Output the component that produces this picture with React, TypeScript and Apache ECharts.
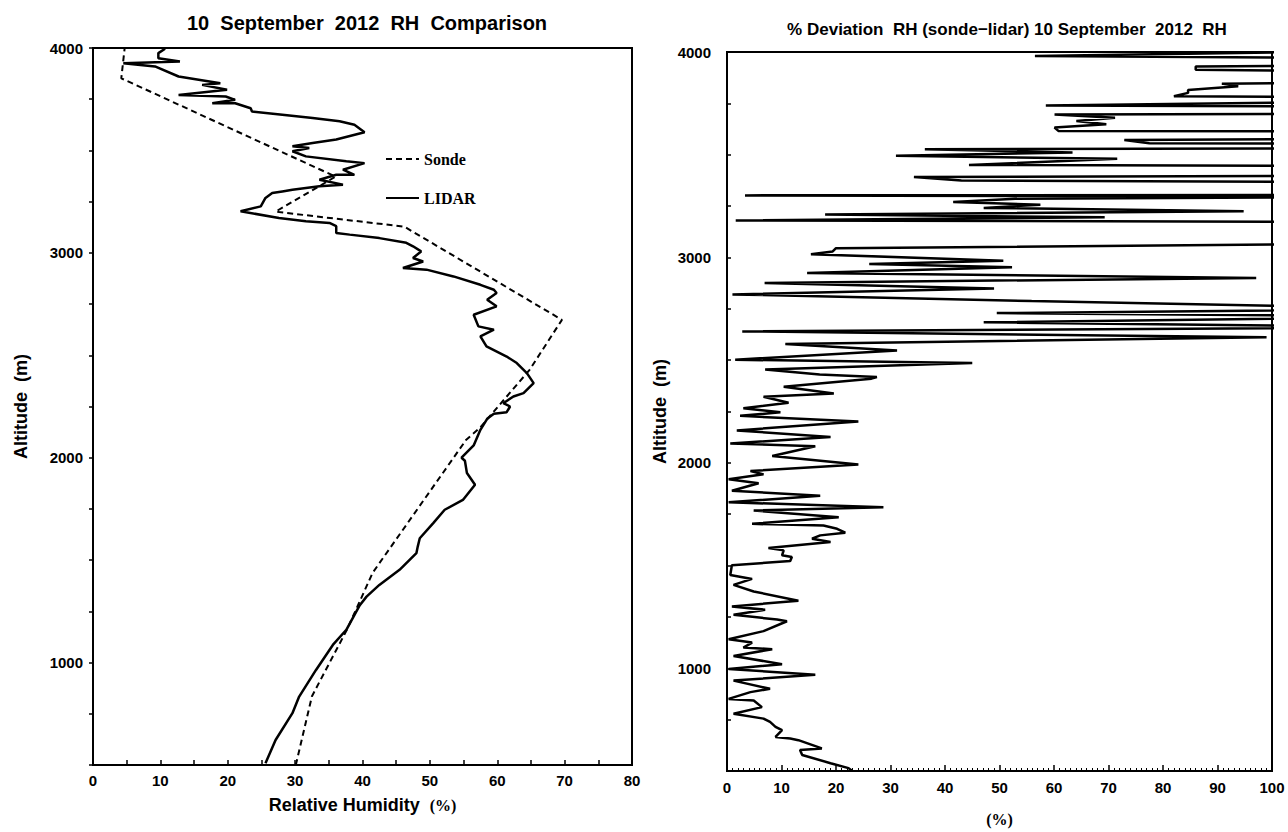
import React, { useEffect, useRef } from "react";
import * as echarts from "echarts";

// ---- Data (RH %, altitude m) ----
const sondeProfile: [number, number][] = [
  [30.1, 500], [32.5, 836], [37.7, 1161], [41.5, 1438], [55.4, 2088], [57.4, 2145],
  [64.8, 2429], [69.6, 2673], [46.2, 3128], [27.1, 3201], [36.0, 3372], [4.2, 3852], [4.7, 4000],
];

const lidarProfile: [number, number][] = [
  [25.6, 509], [27.1, 622], [29.6, 753], [30.6, 834], [33.1, 964], [35.6, 1086], [37.6, 1160],
  [39.6, 1280], [40.6, 1322], [42.5, 1379], [45.5, 1453], [48.0, 1534], [48.2, 1566], [48.5, 1607],
  [50.5, 1681], [52.2, 1746], [54.9, 1794], [56.7, 1868], [55.5, 1925], [55.2, 1985], [54.7, 2000],
  [56.5, 2060], [57.5, 2136], [58.5, 2190], [59.5, 2215], [61.4, 2222], [61.9, 2250], [60.9, 2266],
  [62.4, 2299], [63.9, 2315], [65.4, 2364], [64.4, 2413], [62.9, 2462], [61.4, 2494], [58.4, 2543],
  [57.5, 2592], [59.5, 2625], [57.2, 2641], [56.5, 2698], [59.9, 2739], [58.5, 2771], [59.9, 2804],
  [59.5, 2820], [57.5, 2844], [53.5, 2885], [49.5, 2918], [46.0, 2926], [49.0, 2958], [47.5, 2975],
  [48.7, 3007], [47.5, 3032], [46.5, 3049], [42.5, 3072], [38.1, 3089], [36.1, 3097], [36.1, 3130],
  [35.1, 3146], [31.6, 3154], [27.6, 3170], [21.9, 3203], [24.9, 3227], [25.6, 3268], [26.6, 3292],
  [28.1, 3300], [29.6, 3308], [33.6, 3325], [37.1, 3333], [33.6, 3357], [36.1, 3381], [38.8, 3381],
  [37.1, 3406], [40.3, 3438], [37.6, 3447], [31.6, 3471], [29.6, 3496], [32.1, 3512], [29.6, 3520],
  [32.6, 3536], [36.1, 3553], [40.3, 3589], [38.8, 3625], [36.6, 3642], [32.6, 3658], [28.1, 3674],
  [23.6, 3690], [23.4, 3706], [21.1, 3730], [17.7, 3730], [21.1, 3747], [19.7, 3763], [12.7, 3771],
  [19.9, 3796], [16.2, 3820], [18.9, 3828], [12.7, 3861], [9.2, 3910], [4.5, 3926], [12.9, 3934],
  [9.7, 3950], [9.7, 3975], [10.7, 3996],
];

// % deviation (sonde - lidar), altitude m
const deviationProfile: [number, number][] = [
  [23, 500], [22.3, 514], [19.0, 538], [13.8, 578], [13.4, 602], [17.4, 610], [13.1, 650], [11.6, 658],
  [8.9, 666], [10.1, 699], [8.9, 715], [7.9, 739], [6.7, 755], [1.2, 779], [6.4, 811], [4.9, 843],
  [0.3, 851], [4.3, 884], [7.9, 900], [1.2, 940], [16.2, 969], [0.3, 996], [10.1, 1020], [1.2, 1060],
  [8.3, 1093], [3.0, 1101], [4.6, 1125], [0.3, 1141], [6.7, 1181], [11.0, 1229], [9.2, 1237],
  [1.2, 1261], [7.0, 1285], [0.9, 1301], [13.1, 1329], [4.9, 1374], [1.2, 1406], [4.6, 1435],
  [0.6, 1454], [0.9, 1502], [11.6, 1522], [11.9, 1542], [10.1, 1550], [10.4, 1574], [7.6, 1586],
  [19.0, 1615], [15.6, 1631], [17.1, 1647], [21.7, 1660], [20.2, 1679], [17.7, 1695], [4.6, 1703],
  [20.5, 1735], [4.9, 1768], [28.7, 1784], [0.3, 1808], [17.1, 1840], [0.9, 1864], [5.8, 1901],
  [0.3, 1920], [6.7, 1944], [4.3, 1960], [24.1, 1992], [8.3, 2033], [16.2, 2081], [0.6, 2094],
  [19.0, 2126], [1.8, 2158], [24.1, 2201], [2.4, 2229], [9.8, 2246], [3.0, 2266], [11.3, 2293],
  [6.7, 2322], [19.6, 2338], [10.4, 2370], [26.5, 2410], [27.5, 2418], [17.0, 2430], [7.0, 2454],
  [45.0, 2486], [1.5, 2502], [31.2, 2547], [10.7, 2579], [99, 2611], [2.8, 2640], [130, 2660],
  [47.1, 2684], [130, 2712], [49.5, 2729], [130, 2750], [55.9, 2788], [1.0, 2820], [49.0, 2849],
  [6.9, 2876], [97.1, 2900], [14.7, 2924], [52.3, 2952], [26.1, 2968], [50.7, 2984], [15.4, 3016],
  [19.4, 3029], [20.0, 3045], [130, 3070], [130, 3172], [1.6, 3180], [69.3, 3195], [18, 3209],
  [94.8, 3225], [47.1, 3241], [57.5, 3257], [41.5, 3270], [52.9, 3286], [130, 3296], [3.3, 3302],
  [130, 3305], [130, 3365], [43, 3375], [34.3, 3391], [130, 3398], [130, 3445], [44.4, 3450],
  [71.6, 3480], [31, 3495], [63.4, 3511], [36.3, 3527], [130, 3532], [130, 3552], [77.5, 3556],
  [72.9, 3572], [130, 3578], [130, 3612], [60.8, 3616], [60.1, 3632], [69.6, 3648], [64.1, 3664],
  [71.2, 3680], [60.1, 3696], [130, 3700], [130, 3733], [58.5, 3740], [130, 3762], [130, 3778],
  [82, 3785], [84.6, 3801], [84.6, 3815], [93.8, 3833], [90.8, 3846], [130, 3852], [130, 3905],
  [86, 3913], [86, 3929], [130, 3937], [130, 3968], [56.5, 3981], [130, 4010],
];

const altitudeLabels = [1000, 2000, 3000, 4000];
const rhLabels = [0, 10, 20, 30, 40, 50, 60, 70, 80];
const devLabels = [0, 10, 20, 30, 40, 50, 60, 70, 80, 90, 100];

const SANS = "'Liberation Sans', Arial, sans-serif";
const SERIF = "'Liberation Serif', 'Times New Roman', serif";

const labelStyle = { color: "#000", fontFamily: SANS, fontWeight: "bold" as const, fontSize: 15 };
const nameStyle = { color: "#000", fontFamily: SANS, fontWeight: "bold" as const, fontSize: 18 };

export default function App() {
  const ref = useRef<HTMLDivElement>(null);

  useEffect(() => {
    document.body.style.margin = "0";
    if (!ref.current) return;
    const chart = echarts.init(ref.current, null, { renderer: "svg" });

    const option: any = {
      animation: false,
      backgroundColor: "#fff",
      title: [
        {
          text: "10  September  2012  RH  Comparison",
          left: 362,
          top: 8,
          textAlign: "center",
          textStyle: { color: "#000", fontFamily: SANS, fontWeight: "bold", fontSize: 20 },
        },
        {
          text: "% Deviation  RH (sonde\u2212lidar) 10 September  2012  RH",
          left: 1002,
          top: 16,
          textAlign: "center",
          textStyle: { color: "#000", fontFamily: SANS, fontWeight: "bold", fontSize: 17 },
        },
      ],
      legend: {
        data: ["Sonde", "LIDAR"],
        orient: "vertical",
        left: 385,
        top: 151,
        padding: 0,
        itemWidth: 33,
        itemHeight: 14,
        itemGap: 23,
        itemStyle: { color: "rgba(0,0,0,0)", borderColor: "rgba(0,0,0,0)", borderWidth: 0, opacity: 0 },
        textStyle: { color: "#000", fontFamily: SERIF, fontWeight: "bold", fontSize: 16 },
      },
      grid: [
        { left: 93, top: 48, width: 539, height: 717, show: true, borderColor: "#000", borderWidth: 2 },
        { left: 727, top: 52, width: 545, height: 726, show: true, borderColor: "#000", borderWidth: 2 },
      ],
      xAxis: [
        {
          gridIndex: 0,
          type: "value",
          min: 0,
          max: 80,
          interval: 5,
          axisLine: { lineStyle: { color: "#000", width: 2 } },
          axisTick: { inside: true, length: 5, lineStyle: { color: "#000", width: 1.5 } },
          axisLabel: {
            ...labelStyle,
            margin: 8,
            formatter: (v: number) => (rhLabels.includes(v) ? String(v) : ""),
          },
          splitLine: { show: false },
          name: "Relative Humidity  {s|(%)}",
          nameLocation: "middle",
          nameGap: 31,
          nameTextStyle: {
            ...nameStyle,
            rich: { s: { fontFamily: SERIF, fontWeight: "bold", fontSize: 16, color: "#000" } },
          },
        },
        {
          gridIndex: 1,
          type: "value",
          min: 0,
          max: 100,
          interval: 10,
          axisLine: { lineStyle: { color: "#000", width: 2 } },
          axisTick: { inside: true, length: 6, lineStyle: { color: "#000", width: 1.5 } },
          minorTick: { show: true, splitNumber: 10, length: 3, lineStyle: { color: "#000", width: 1 } },
          axisLabel: {
            ...labelStyle,
            margin: 9,
            formatter: (v: number) => (devLabels.includes(v) ? String(v) : ""),
          },
          splitLine: { show: false },
          name: "(%)",
          nameLocation: "middle",
          nameGap: 40,
          nameTextStyle: { color: "#000", fontFamily: SERIF, fontWeight: "bold", fontSize: 16 },
        },
      ],
      yAxis: [
        {
          gridIndex: 0,
          type: "value",
          min: 500,
          max: 4000,
          interval: 250,
          axisLine: { lineStyle: { color: "#000", width: 2 } },
          axisTick: { inside: false, length: 4, lineStyle: { color: "#000", width: 1.5 } },
          axisLabel: {
            ...labelStyle,
            margin: 10,
            formatter: (v: number) => (altitudeLabels.includes(v) ? String(v) : ""),
          },
          splitLine: { show: false },
          name: "Altitude  (m)",
          nameLocation: "middle",
          nameGap: 63,
          nameTextStyle: { ...nameStyle },
        },
        {
          gridIndex: 1,
          type: "value",
          min: 500,
          max: 4000,
          interval: 250,
          axisLine: { lineStyle: { color: "#000", width: 2 } },
          axisTick: { inside: true, length: 4, lineStyle: { color: "#000", width: 1.5 } },
          axisLabel: {
            ...labelStyle,
            margin: 16,
            formatter: (v: number) => (altitudeLabels.includes(v) ? String(v) : ""),
          },
          splitLine: { show: false },
          name: "Altitude  (m)",
          nameLocation: "middle",
          nameGap: 58,
          nameTextStyle: { ...nameStyle },
        },
      ],
      series: [
        {
          name: "Sonde",
          type: "line",
          xAxisIndex: 0,
          yAxisIndex: 0,
          data: sondeProfile,
          symbol: "none",
          showSymbol: false,
          lineStyle: { color: "#000", width: 2, type: [6, 4] },
          itemStyle: { color: "#000" },
        },
        {
          name: "LIDAR",
          type: "line",
          xAxisIndex: 0,
          yAxisIndex: 0,
          data: lidarProfile,
          symbol: "none",
          showSymbol: false,
          lineStyle: { color: "#000", width: 2.5 },
          itemStyle: { color: "#000" },
        },
        {
          name: "Deviation",
          type: "line",
          xAxisIndex: 1,
          yAxisIndex: 1,
          data: deviationProfile,
          symbol: "none",
          showSymbol: false,
          clip: true,
          lineStyle: { color: "#000", width: 2.5 },
          itemStyle: { color: "#000" },
        },
      ],
    };

    chart.setOption(option);
    return () => chart.dispose();
  }, []);

  return <div ref={ref} style={{ width: 1288, height: 832 }} />;
}
